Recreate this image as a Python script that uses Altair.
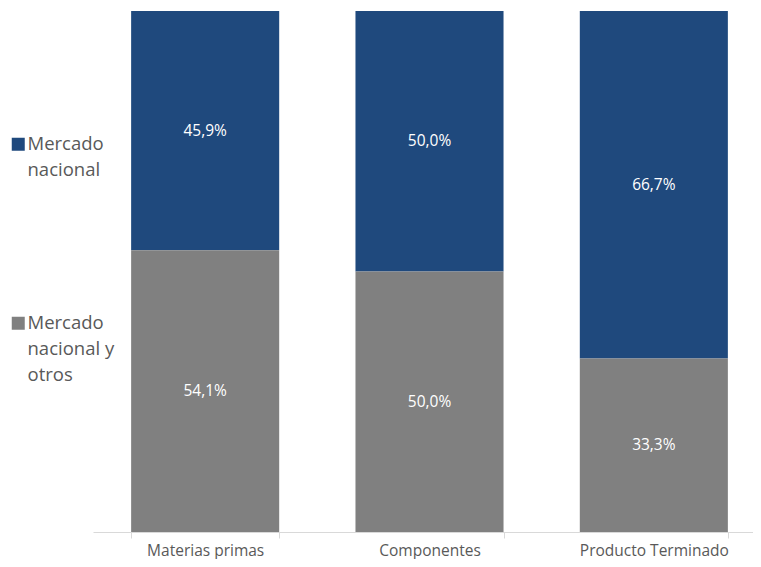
import altair as alt
import pandas as pd

categories = ["Materias primas", "Componentes", "Producto Terminado"]
series = ["Mercado nacional", "Mercado nacional y otros"]
series_lines = [["Mercado", "nacional"], ["Mercado", "nacional y", "otros"]]
nacional = [45.9, 50.0, 66.7]
nacional_otros = [54.1, 50.0, 33.3]
colors = ["#1F497D", "#808080"]

rows = []
for i, c in enumerate(categories):
    rows.append({"cat": c, "serie": series[0], "value": nacional[i], "ord": 1})
    rows.append({"cat": c, "serie": series[1], "value": nacional_otros[i], "ord": 0})
df = pd.DataFrame(rows)

FONT = "Open Sans"

label_expr = " : ".join(
    [f"datum.label == '{s}' ? {lines!r}" for s, lines in zip(series[:-1], series_lines[:-1])]
    + [repr(series_lines[-1])]
)

base = alt.Chart(df).transform_stack(
    stack="value", groupby=["cat"], as_=["y0", "y1"], offset="normalize",
    sort=[alt.SortField("ord", order="ascending")]
).transform_calculate(
    mid="(datum.y0 + datum.y1) / 2",
    lbl="replace(format(datum.value, '.1f'), '.', ',') + '%'"
)

x = alt.X(
    "cat:N", sort=categories, title=None,
    scale=alt.Scale(range=[0, 673], paddingInner=0.34, paddingOuter=0.17),
    axis=alt.Axis(labelAngle=0, tickBand="extent", domainColor="#D9D9D9",
                  tickColor="#D9D9D9", tickSize=6, labelPadding=5, labelFont=FONT,
                  labelFontSize=15.5, labelColor="#595959", grid=False),
)
yscale = alt.Scale(domain=[0, 1], nice=False, zero=True)

bars = base.mark_bar().encode(
    x=x,
    y=alt.Y("y0:Q", scale=yscale, axis=None),
    y2="y1:Q",
    color=alt.Color(
        "serie:N",
        scale=alt.Scale(domain=series, range=colors),
        legend=alt.Legend(
            title=None, orient="none", legendX=-84, legendY=124,
            symbolType="square", symbolSize=169, symbolStrokeWidth=0,
            labelFont=FONT, labelFontSize=18.5, labelColor="#595959",
            labelExpr=label_expr, labelOffset=0, rowPadding=134,
            labelBaseline="middle", labelLimit=300,
        ),
    ),
)

labels = base.mark_text(color="white", font=FONT, fontSize=15.5, baseline="middle").encode(
    x=alt.X("cat:N", sort=categories),
    y=alt.Y("mid:Q", scale=yscale),
    text="lbl:N",
)

chart = alt.layer(bars, labels).properties(
    width=660, height=521,
    padding={"left": 85, "top": 3, "right": 0, "bottom": 27},
    autosize=alt.AutoSizeParams(type="none"),
).configure(style={"guide-label": {"lineHeight": 26}}).configure_view(strokeWidth=0)

chart.save("out.html", embed_options={"renderer": "svg", "actions": False})
